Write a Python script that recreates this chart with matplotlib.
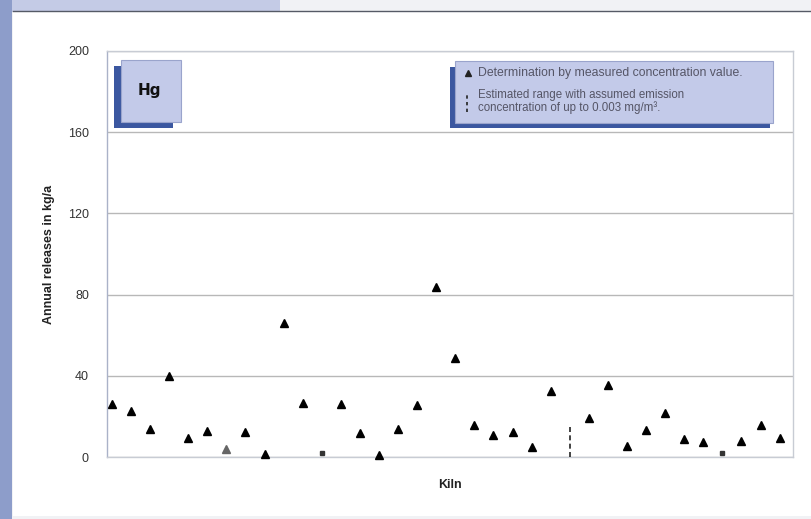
import matplotlib
matplotlib.use("Agg")
import matplotlib.pyplot as plt
from matplotlib.patches import Rectangle
from matplotlib.lines import Line2D

plt.rcParams['font.family'] = ['Liberation Sans', 'DejaVu Sans']

kilns = list(range(1, 37))
releases = [26, 22.7, 13.8, 40, 9.4, 12.8, 4, 12.3, 1.5, 66,
            26.6, 2, 26, 11.8, 1, 13.8, 25.6, 83.7, 48.8, 15.8,
            10.8, 12.3, 5, 32.5, None, 19.2, 35.5, 5.4, 13.3, 21.7,
            8.9, 7.4, 2, 7.9, 15.8, 9.4]
range_kiln = 25
range_low, range_high = 0, 15
small_marks = [12, 33]
gray_marks = [7]
yticks = [0, 40, 80, 120, 160, 200]

W, H = 812, 519
fig = plt.figure(figsize=(W / 100, H / 100), dpi=100)
fig.patch.set_facecolor('#f1f2f5')

def fx(px):
    return px / W

def fy(py):
    return 1 - py / H

# page background decorations
fig.patches.append(Rectangle((0, fy(12)), fx(280), fy(0) - fy(12), transform=fig.transFigure,
                             facecolor='#c4cbe6', edgecolor='none', zorder=-2))
fig.patches.append(Rectangle((0, 0), fx(12), 1, transform=fig.transFigure,
                             facecolor='#8d9dca', edgecolor='none', zorder=-2))
fig.patches.append(Rectangle((fx(13), fy(516)), fx(812 - 13), fy(11) - fy(516), transform=fig.transFigure,
                             facecolor='white', edgecolor='none', zorder=-2))
fig.lines.append(Line2D([fx(13), fx(812)], [fy(11), fy(11)], transform=fig.transFigure,
                        color='#555a66', lw=1.0, zorder=-1))

ax_l, ax_r, ax_t, ax_b = 107, 793, 51, 457
ax = fig.add_axes([fx(ax_l), fy(ax_b), fx(ax_r - ax_l), fy(ax_t) - fy(ax_b)])
ax.set_zorder(1)
ax.set_facecolor('white')
ax.set_xlim(0.74, 36.7)
ax.set_ylim(0, 200)
ax.set_yticks(yticks)
ax.set_yticklabels([str(v) for v in yticks], fontsize=9, color='#333333')
ax.set_xticks([])
ax.tick_params(axis='y', length=0, pad=13)
ax.grid(axis='y', color='#b8b8b8', lw=1.0)
ax.set_axisbelow(True)
for s in ax.spines.values():
    s.set_color('#c8ccd4')
    s.set_linewidth(1.0)
ax.spines['left'].set_color('#aab2c8')

xs = [k for k, v in zip(kilns, releases) if v is not None and k not in small_marks + gray_marks]
ys = [v for k, v in zip(kilns, releases) if v is not None and k not in small_marks + gray_marks]
ax.plot(xs, ys, linestyle='none', marker='^', color='black', markersize=6, zorder=5, clip_on=False)
gx = [k for k in gray_marks]
gy = [releases[k - 1] for k in gray_marks]
ax.plot(gx, gy, linestyle='none', marker='^', color='#666666', markersize=6, zorder=5)
sx = [k for k in small_marks]
sy = [releases[k - 1] for k in small_marks]
ax.plot(sx, sy, linestyle='none', marker='s', color='#333333', markersize=3.5, zorder=5, clip_on=False)
ax.plot([range_kiln, range_kiln], [range_low, range_high], linestyle=(0, (3, 2)), color='#222222', lw=1.2, zorder=5)

ax.set_ylabel('Annual releases in kg/a', fontsize=9, fontweight='bold', color='#222222', labelpad=9)
ax.set_xlabel('Kiln', fontsize=9, fontweight='bold', color='#222222', labelpad=16)

# Hg box
fig.patches.append(Rectangle((fx(114), fy(128)), fx(59), fy(66) - fy(128), transform=fig.transFigure,
                             facecolor='#3b57a0', edgecolor='none', zorder=3))
fig.patches.append(Rectangle((fx(121), fy(122)), fx(60), fy(60) - fy(122), transform=fig.transFigure,
                             facecolor='#c3cae9', edgecolor='#9aa4cc', lw=0.8, zorder=4))
fig.text(fx(149), fy(91), 'Hg', fontsize=11, fontweight='bold', ha='center', va='center',
         color='#111111', zorder=5, family=['DejaVu Sans'])

# Legend box
fig.patches.append(Rectangle((fx(450), fy(128)), fx(320), fy(67) - fy(128), transform=fig.transFigure,
                             facecolor='#3b57a0', edgecolor='none', zorder=3))
fig.patches.append(Rectangle((fx(455), fy(123)), fx(318), fy(61) - fy(123), transform=fig.transFigure,
                             facecolor='#c3cae9', edgecolor='#9aa4cc', lw=0.8, zorder=4))
fig.lines.append(Line2D([fx(468)], [fy(73)], transform=fig.transFigure, marker='^', color='#222222',
                        markersize=5, linestyle='none', zorder=5))
fig.text(fx(478), fy(73), 'Determination by measured concentration value.', fontsize=8.8,
         color='#555566', va='center', ha='left', zorder=5)
fig.lines.append(Line2D([fx(467), fx(467)], [fy(112), fy(93)], transform=fig.transFigure,
                        linestyle=(0, (2, 2)), color='#222222', lw=1.2, zorder=5))
fig.text(fx(478), fy(101.5), 'Estimated range with assumed emission\nconcentration of up to 0.003 mg/m³.',
         fontsize=8.3, color='#555566', va='center', ha='left', linespacing=1.0, zorder=5)

fig.savefig('out.png', dpi=100, facecolor=fig.get_facecolor())
